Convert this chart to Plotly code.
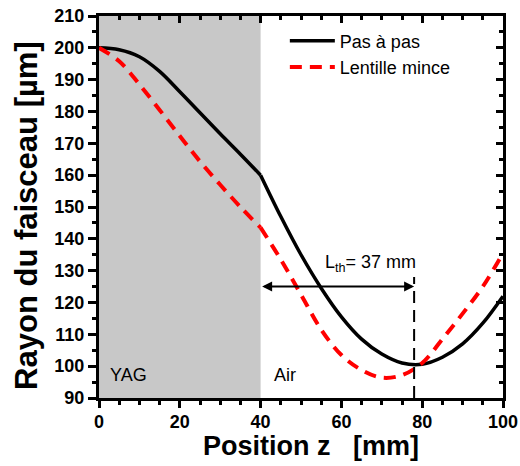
import plotly.graph_objects as go

# ---- data ----
z_yag = [0, 5, 10, 15, 20, 25, 30, 35, 40]
pas_yag = [200, 199.4, 197.2, 192.6, 186.2, 179.6, 173, 166.6, 160]
lent_yag = [200, 195.8, 188.5, 180.5, 172.3, 164.3, 157, 150, 143.5]

z_air = [40, 45, 50, 55, 60, 65, 70, 75, 80, 85, 90, 95, 100]
pas_air = [160, 147, 135, 124.5, 115.5, 108.5, 103.8, 101.0, 100.6, 102.8, 107, 113.5, 122]
lent_air = [143.5, 133.5, 122.5, 111.5, 103.5, 98.8, 96.4, 97.2, 101, 108.5, 116.5, 125, 135.5]

yag_end = 40          # end of YAG crystal [mm]
z_focus = 78          # position of beam waist (step-by-step)
focus_line_top = 128  # top of vertical dashed marker
arrow_level = 125     # y level of the L_th arrow
lth_label = "L<sub>th</sub>= 37 mm"
x_title = "Position z\u00a0\u00a0\u00a0[mm]"
y_title = "Rayon du faisceau [\u00b5m]"

x_range = [0, 100]
y_range = [90, 210]

FONT = "Liberation Sans, Arial, sans-serif"

fig = go.Figure()

# Pas à pas (black, solid)
fig.add_trace(go.Scatter(x=z_yag, y=pas_yag, mode="lines", line=dict(color="black", width=3.5, shape="spline"),
                         name="Pas à pas", legendgroup="pas", showlegend=True))
fig.add_trace(go.Scatter(x=z_air, y=pas_air, mode="lines", line=dict(color="black", width=3.5, shape="spline"),
                         name="Pas à pas", legendgroup="pas", showlegend=False))
# Lentille mince (red, dashed)
fig.add_trace(go.Scatter(x=z_yag, y=lent_yag, mode="lines",
                         line=dict(color="#ff0000", width=4, dash="12px,8px", shape="spline"),
                         name="Lentille mince", legendgroup="lent", showlegend=True))
fig.add_trace(go.Scatter(x=z_air, y=lent_air, mode="lines",
                         line=dict(color="#ff0000", width=4, dash="12px,8px", shape="spline"),
                         name="Lentille mince", legendgroup="lent", showlegend=False))
# vertical dashed focus marker
fig.add_trace(go.Scatter(x=[z_focus, z_focus], y=[y_range[0], focus_line_top], mode="lines",
                         line=dict(color="black", width=2, dash="12px,7px"), showlegend=False, hoverinfo="skip"))
# invisible trace carrying the mirrored (top / right) axes
fig.add_trace(go.Scatter(x=x_range, y=y_range, xaxis="x2", yaxis="y2", mode="markers",
                         marker=dict(opacity=0, size=1), showlegend=False, hoverinfo="skip"))

# YAG shaded region
fig.add_shape(type="rect", xref="x", yref="y", x0=x_range[0], x1=yag_end, y0=y_range[0], y1=y_range[1],
              fillcolor="#c8c8c8", line=dict(width=0), layer="below")

tickfont = dict(family=FONT, size=18, color="black", weight="bold")
common = dict(showgrid=False, zeroline=False, showline=True, linewidth=3, linecolor="black",
              tickcolor="black", tickwidth=3, automargin=False)

fig.update_layout(
    width=520, height=466, autosize=False,
    margin=dict(l=99, r=17, t=16, b=68),
    paper_bgcolor="white", plot_bgcolor="white",
    font=dict(family=FONT, color="black"),
    xaxis=dict(range=x_range, tick0=0, dtick=20, ticks="outside", ticklen=7, tickfont=tickfont, mirror=True,
               ticklabelstandoff=-2,
               minor=dict(dtick=5, tick0=0, ticks="outside", ticklen=4, tickwidth=3, tickcolor="black"),
               **common),
    yaxis=dict(range=y_range, tick0=90, dtick=10, ticks="outside", ticklen=8, tickfont=tickfont, mirror=True,
               minor=dict(dtick=5, tick0=90, ticks="outside", ticklen=4, tickwidth=3, tickcolor="black"),
               **common),
    xaxis2=dict(range=x_range, overlaying="x", side="top", tick0=0, dtick=20, ticks="inside", ticklen=7,
                showticklabels=False,
                minor=dict(dtick=5, tick0=0, ticks="inside", ticklen=4, tickwidth=3, tickcolor="black"),
                **common),
    yaxis2=dict(range=y_range, overlaying="y", side="right", tick0=90, dtick=10, ticks="inside", ticklen=7,
                showticklabels=False,
                minor=dict(dtick=5, tick0=90, ticks="inside", ticklen=4, tickwidth=3, tickcolor="black"),
                **common),
    legend=dict(x=0.46, y=0.983, xanchor="left", yanchor="top", bgcolor="rgba(0,0,0,0)",
                font=dict(family=FONT, size=18, color="black"), itemwidth=45, tracegroupgap=0),
    showlegend=True,
)

# axis titles
fig.add_annotation(x=0.525, y=-0.126, xref="paper", yref="paper", text=x_title, showarrow=False,
                   xanchor="center", yanchor="middle",
                   font=dict(family=FONT, size=27, color="black", weight="bold"))
fig.add_annotation(x=-0.181, y=0.479, xref="paper", yref="paper", text=y_title, showarrow=False,
                   textangle=-90, xanchor="center", yanchor="middle",
                   font=dict(family=FONT, size=31, color="black", weight="bold"))

fig.add_annotation(x=2.2, y=97.1, xref="x", yref="y", text="YAG", showarrow=False,
                   xanchor="left", yanchor="middle", font=dict(family=FONT, size=18, color="black"))
fig.add_annotation(x=42.8, y=97.1, xref="x", yref="y", text="Air", showarrow=False,
                   xanchor="left", yanchor="middle", font=dict(family=FONT, size=18, color="black"))
fig.add_annotation(x=67.3, y=132.1, xref="x", yref="y", text=lth_label, showarrow=False,
                   xanchor="center", yanchor="middle", font=dict(family=FONT, size=18, color="black"))
fig.add_annotation(x=z_focus, y=arrow_level, ax=yag_end, ay=arrow_level, xref="x", yref="y",
                   axref="x", ayref="y", text="", showarrow=True, arrowhead=2, startarrowhead=2,
                   arrowside="end+start", arrowwidth=2, arrowsize=1, startarrowsize=1, arrowcolor="black")

fig.write_html("out.html", config={"displayModeBar": False},
               post_script="document.body.style.margin='0';document.body.style.overflow='hidden';")
